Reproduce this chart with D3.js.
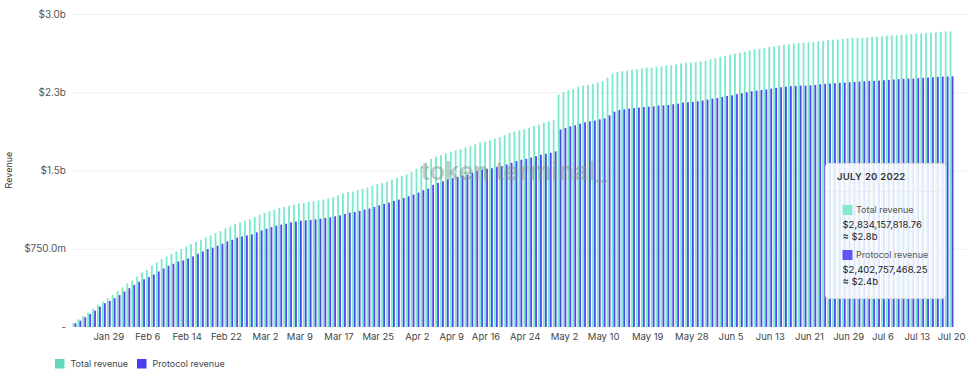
<!DOCTYPE html>
<html>
<head>
<meta charset="utf-8">
<script src="https://cdn.jsdelivr.net/npm/d3@7"></script>
<style>
  body { margin: 0; background: #fff; font-family: Inter, "Noto Sans", sans-serif; }
  svg text { font-family: Inter, "Noto Sans", sans-serif; }
</style>
</head>
<body>
<div id="chart"></div>
<script>
var width = 972, height = 378;

// daily cumulative revenue, $m, Jan 22 -> Jul 20 2022
var startDate = "2022-01-22", endDate = "2022-07-20";
var totalRevenue = [
  41, 74, 106, 138, 176, 211, 243, 276, 308, 343,
  378, 420, 445, 484, 522, 548, 587, 618, 651, 676,
  702, 724, 747, 772, 795, 814, 836, 859, 878, 901,
  920, 945, 964, 987, 1003, 1019, 1032, 1055, 1074, 1093,
  1109, 1125, 1141, 1151, 1163, 1173, 1183, 1189,
  1199, 1205, 1215, 1221, 1231, 1244, 1260, 1279, 1292, 1298,
  1311, 1324, 1337, 1353, 1368, 1381, 1394, 1413, 1430, 1449, 1462,
  1484, 1516, 1541, 1564, 1612, 1632, 1647, 1666, 1680, 1692,
  1705, 1721, 1734, 1750, 1766, 1776, 1788, 1805, 1820, 1839,
  1862, 1872, 1885, 1894, 1910, 1926, 1939, 1959, 1971, 1984,
  2228, 2253, 2269, 2282, 2301, 2314, 2320, 2330, 2343, 2356,
  2388, 2430, 2445, 2452, 2458, 2465, 2471, 2478, 2484, 2487,
  2494, 2500, 2506, 2510, 2516, 2526, 2532, 2535, 2538, 2545,
  2555, 2567, 2577, 2590, 2599, 2609, 2619, 2628, 2638, 2651,
  2660, 2667,
  2673, 2683, 2689, 2699, 2705, 2711, 2715, 2721, 2724, 2728,
  2731, 2737, 2743, 2750, 2753, 2756, 2760, 2766, 2769, 2769,
  2772, 2776, 2779, 2782, 2785, 2792, 2795, 2798, 2801, 2804,
  2808, 2811, 2814, 2817, 2820, 2824, 2830, 2833, 2834.15781876
];
var protocolRevenue = [
  35, 61, 93, 125, 157, 195, 228, 250, 276, 305,
  340, 372, 404, 433, 458, 478, 503, 532, 561, 587,
  606, 628, 638, 657, 676, 702, 724, 747, 760, 779,
  798, 820, 836, 856, 868, 878, 888, 907, 926, 942,
  958, 971, 981, 990, 1003, 1010, 1019, 1022,
  1026, 1032, 1038, 1045, 1051, 1061, 1070, 1083, 1096, 1103,
  1112, 1125, 1135, 1151, 1167, 1180, 1192, 1209, 1221, 1237, 1253,
  1269, 1288, 1311, 1327, 1362, 1381, 1397, 1413, 1426, 1439,
  1452, 1462, 1478, 1494, 1510, 1516, 1522, 1532, 1541, 1558,
  1574, 1590, 1603, 1612, 1625, 1638, 1651, 1661, 1670, 1683,
  1894, 1907, 1923, 1933, 1949, 1962, 1971, 1978, 1990, 2000,
  2029, 2064, 2080, 2087, 2093, 2099, 2103, 2109, 2112, 2115,
  2122, 2125, 2128, 2135, 2141, 2151, 2154, 2157, 2163, 2170,
  2179, 2189, 2195, 2205, 2215, 2221, 2231, 2240, 2250, 2260,
  2266, 2272,
  2276, 2285, 2292, 2298, 2304, 2308, 2311, 2314, 2314, 2317,
  2320, 2327, 2330, 2333, 2336, 2340, 2343, 2346, 2349, 2353,
  2356, 2359, 2359, 2362, 2365, 2368, 2372, 2375, 2378, 2381,
  2381, 2385, 2388, 2391, 2394, 2397, 2400, 2401, 2402.75746825
];
var xTicks = ["2022-01-29", "2022-02-06", "2022-02-14", "2022-02-22", "2022-03-02",
  "2022-03-09", "2022-03-17", "2022-03-25", "2022-04-02", "2022-04-09", "2022-04-16",
  "2022-04-24", "2022-05-02", "2022-05-10", "2022-05-19", "2022-05-28", "2022-06-05",
  "2022-06-13", "2022-06-21", "2022-06-29", "2022-07-06", "2022-07-13", "2022-07-20"];
var yTicks = [0, 750, 1500, 2250, 3000];
var yTickLabels = ["-", "$750.0m", "$1.5b", "$2.3b", "$3.0b"];
var seriesNames = ["Total revenue", "Protocol revenue"];
var colors = ["#7ae9cc", "#5046ef"];
var legendColors = ["#62d8b6", "#4a3ded"];

var parse = d3.utcParse("%Y-%m-%d");
var days = d3.utcDay.range(parse(startDate), d3.utcDay.offset(parse(endDate), 1));
var data = days.map((d, i) => ({ date: d, total: totalRevenue[i], protocol: protocolRevenue[i] }));

var x = d3.scaleBand()
  .domain(days.map(d => +d))
  .range([72, 72 + 4.9 * days.length])
  .paddingInner(0);
var y = d3.scaleLinear().domain([0, 3000]).range([327, 14]);

var svg = d3.select("#chart").append("svg")
  .attr("width", width)
  .attr("height", height);

// grid
svg.append("g").selectAll("line")
  .data(yTicks.slice(1))
  .enter().append("line")
  .attr("x1", 72).attr("x2", 968)
  .attr("y1", d => y(d) + 0.5).attr("y2", d => y(d) + 0.5)
  .attr("stroke", "#f0f0f0");

svg.append("g").selectAll("text")
  .data(yTicks)
  .enter().append("text")
  .attr("x", 66)
  .attr("y", d => y(d))
  .attr("dy", "0.35em")
  .attr("text-anchor", "end")
  .attr("font-size", 10)
  .attr("fill", "#555")
  .text((d, i) => yTickLabels[i]);

svg.append("text")
  .attr("transform", "translate(12,170) rotate(-90)")
  .attr("text-anchor", "middle")
  .attr("font-size", 9)
  .attr("fill", "#333")
  .text("Revenue");

// bars
var bw = 1.8;
var bars = svg.append("g");
bars.selectAll(".t")
  .data(data)
  .enter().append("rect")
  .attr("x", d => x(+d.date) + x.bandwidth() / 2 - bw - 0.1)
  .attr("y", d => y(d.total))
  .attr("width", bw)
  .attr("height", d => y(0) - y(d.total))
  .attr("fill", colors[0]);
bars.selectAll(".p")
  .data(data)
  .enter().append("rect")
  .attr("x", d => x(+d.date) + x.bandwidth() / 2 + 0.1)
  .attr("y", d => y(d.protocol))
  .attr("width", bw)
  .attr("height", d => y(0) - y(d.protocol))
  .attr("fill", colors[1]);

// x axis labels
var fmt = d3.utcFormat("%b %-d");
svg.append("g").selectAll("text")
  .data(xTicks)
  .enter().append("text")
  .attr("x", d => x(+parse(d)) + x.bandwidth() / 2)
  .attr("y", 340)
  .attr("text-anchor", "middle")
  .attr("font-size", 9.5)
  .attr("fill", "#444")
  .text(d => fmt(parse(d)));

// watermark
svg.append("text")
  .attr("x", 421)
  .attr("y", 180)
  .attr("font-size", 25)
  .attr("font-weight", 600)
  .attr("fill", "#888")
  .attr("opacity", 0.45)
  .attr("textLength", 186)
  .text("token terminal_");

// legend
var leg = svg.append("g").attr("transform", "translate(55,359)");
var legX = [0, 82];
seriesNames.forEach((n, i) => {
  leg.append("rect").attr("x", legX[i]).attr("y", 0).attr("width", 9.5).attr("height", 9.5)
    .attr("fill", legendColors[i]);
  leg.append("text").attr("x", legX[i] + 15.5).attr("y", 5).attr("dy", "0.35em")
    .attr("font-size", 9).attr("fill", "#444").text(n);
});

// tooltip for the last day
var last = data[data.length - 1];
var tip = svg.append("g").attr("transform", "translate(825,163)");
tip.append("rect")
  .attr("x", 0.5).attr("y", 0.5).attr("width", 120).attr("height", 135).attr("rx", 3)
  .attr("fill", "#fff").attr("fill-opacity", 0.85)
  .attr("stroke", "#dcdcdc");
tip.append("line").attr("x1", 1).attr("x2", 120).attr("y1", 28.5).attr("y2", 28.5)
  .attr("stroke", "#ececec");
tip.append("text").attr("x", 12).attr("y", 14).attr("dy", "0.35em")
  .attr("font-size", 9.5).attr("font-weight", 600).attr("fill", "#333")
  .attr("letter-spacing", 0.3)
  .text(d3.utcFormat("%B %-d %Y")(last.date).toUpperCase());
var full = d3.format(",.2f"), short = d3.format(".1f");
[last.total, last.protocol].forEach((v, i) => {
  var oy = 42 + i * 45;
  tip.append("rect").attr("x", 17.5).attr("y", oy).attr("width", 10).attr("height", 10)
    .attr("fill", colors[i]).attr("opacity", 0.9);
  tip.append("text").attr("x", 31).attr("y", oy + 5).attr("dy", "0.35em")
    .attr("font-size", 9).attr("fill", "#555").text(seriesNames[i]);
  tip.append("text").attr("x", 17.5).attr("y", oy + 20).attr("dy", "0.35em")
    .attr("font-size", 9.5).attr("fill", "#222").text("$" + full(v * 1e6));
  tip.append("text").attr("x", 17.5).attr("y", oy + 32).attr("dy", "0.35em")
    .attr("font-size", 9.5).attr("fill", "#222").text("≈ $" + short(v / 1000) + "b");
});
</script>
</body>
</html>
